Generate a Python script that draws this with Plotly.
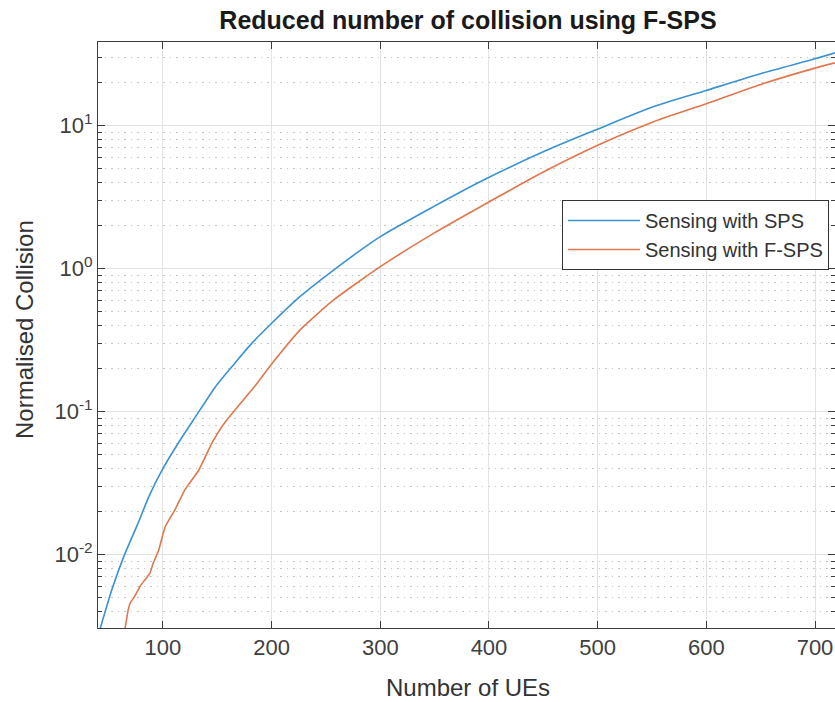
import plotly.graph_objects as go

# Data
sps_x = [42, 53, 64, 77, 87, 100, 114, 130, 148, 166, 180, 200, 226, 257, 300,
         349, 395, 453, 501, 551, 600, 652, 700, 720]
sps_y = [0.0030, 0.0057, 0.0097, 0.0165, 0.0254, 0.040, 0.060, 0.092, 0.148, 0.217,
         0.290, 0.414, 0.635, 0.976, 1.67, 2.71, 4.16, 6.71, 9.5, 13.5, 17.6, 23.3,
         29.3, 32.5]

fsps_x = [65, 68, 70, 74, 79, 83, 88, 91, 96, 102, 111, 120, 133, 145, 154, 166,
          185, 200, 226, 257, 300, 349, 395, 453, 501, 551, 600, 652, 700, 720]
fsps_y = [0.0030, 0.0041, 0.0046, 0.0051, 0.0060, 0.0066, 0.0074, 0.0087, 0.0107,
          0.0156, 0.0205, 0.0282, 0.039, 0.060, 0.078, 0.102, 0.152, 0.215, 0.371,
          0.603, 1.03, 1.76, 2.78, 4.86, 7.34, 10.6, 14.2, 19.6, 25.2, 27.6]

series_names = ["Sensing with SPS", "Sensing with F-SPS"]
x_ticks = [100, 200, 300, 400, 500, 600, 700]
y_ticks = [0.01, 0.1, 1, 10]
y_ticktext = ["10<sup>-2</sup>", "10<sup>-1</sup>", "10<sup>0</sup>", "10<sup>1</sup>"]
y_minor = [m * 10.0 ** k for k in range(-3, 2) for m in range(2, 10)]

W, H = 835, 702
L, R, T, B = 98, 0, 42, 74
FONT = "Liberation Sans, Arial, sans-serif"

fig = go.Figure()
fig.add_trace(go.Scatter(x=sps_x, y=sps_y, mode="lines", name=series_names[0],
                         line=dict(color="#3a92d2", width=1.6, shape="spline", smoothing=0.6)))
fig.add_trace(go.Scatter(x=fsps_x, y=fsps_y, mode="lines", name=series_names[1],
                         line=dict(color="#e0774d", width=1.6, shape="spline", smoothing=0.5)))

axis_col = "#3c3c3c"
tick_font = dict(family=FONT, size=22, color="#404040")

fig.update_layout(
    width=W, height=H,
    margin=dict(l=L, r=R, t=T, b=B),
    paper_bgcolor="white", plot_bgcolor="white",
    title=dict(text="<b>Reduced number of collision using F-SPS</b>",
               x=468 / W, xref="container", xanchor="center",
               y=1 - 20 / H, yref="container", yanchor="middle",
               font=dict(family=FONT, size=25, color="#1a1a1a")),
    xaxis=dict(range=[40.2, 718.4], tickvals=x_ticks, ticks="inside", ticklen=7,
               tickcolor=axis_col, showline=True, linecolor=axis_col, linewidth=1,
               mirror="ticks", showgrid=True, gridcolor="#e2e2e2", gridwidth=1,
               zeroline=False, tickfont=tick_font),
    yaxis=dict(type="log", range=[-2.514, 1.584], tickvals=y_ticks, ticktext=y_ticktext,
               ticks="inside", ticklen=7, tickcolor=axis_col, showline=True,
               linecolor=axis_col, linewidth=1, mirror="ticks", showgrid=True,
               gridcolor="#e2e2e2", gridwidth=1, zeroline=False, tickfont=tick_font,
               minor=dict(tickvals=y_minor, ticks="inside", ticklen=4, tickcolor=axis_col,
                          showgrid=True, gridcolor="#c4c4c4", gridwidth=1,
                          griddash="1.5px,5px")),
    legend=dict(x=(829 - L) / (W - L - R), xanchor="right",
                y=(H - B - 200) / (H - T - B), yanchor="top",
                bgcolor="white", bordercolor="#333333", borderwidth=1,
                font=dict(family=FONT, size=20, color="#333333"),
                itemwidth=72, tracegroupgap=0),
    showlegend=True,
)

fig.add_annotation(text="Number of UEs", xref="paper", yref="paper",
                   x=(468 - L) / (W - L - R), y=-(687 - (H - B)) / (H - T - B),
                   xanchor="center", yanchor="middle", showarrow=False,
                   font=dict(family=FONT, size=24, color="#333333"))
fig.add_annotation(text="Normalised Collision", xref="paper", yref="paper",
                   x=-(L - 24) / (W - L - R), y=(H - B - 330) / (H - T - B),
                   xanchor="center", yanchor="middle", textangle=-90, showarrow=False,
                   font=dict(family=FONT, size=24, color="#333333"))

fig.write_html("out.html")
